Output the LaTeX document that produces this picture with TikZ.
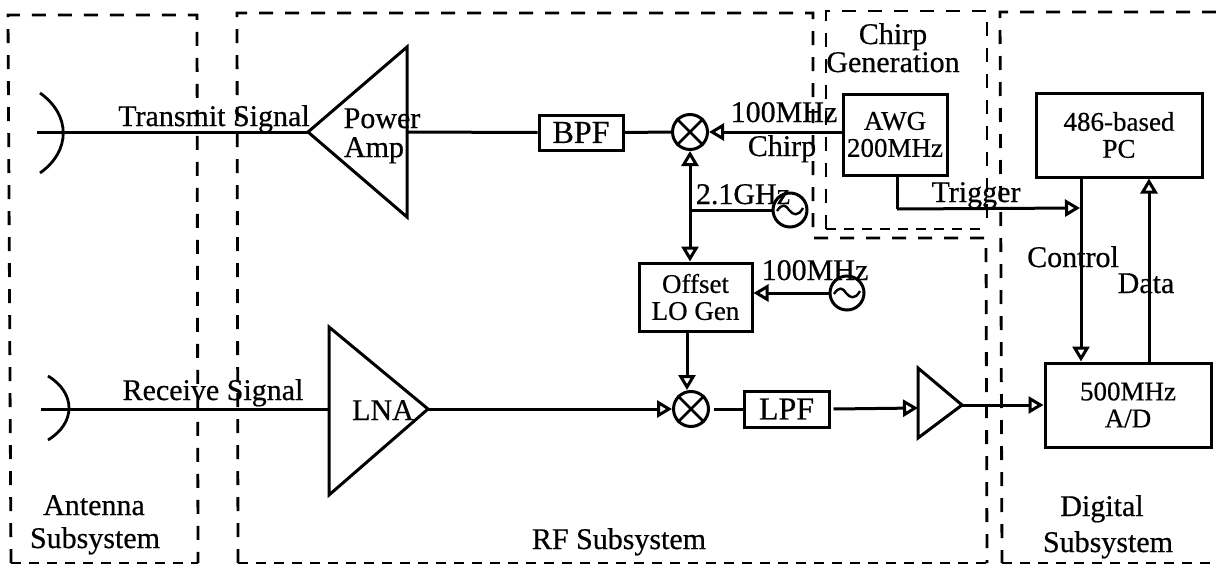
\documentclass[tikz,border=0pt]{standalone}
\usepackage{fontspec}
\setmainfont{Liberation Serif}[FakeBold=0.5]
\usetikzlibrary{arrows.meta,calc}
\newcommand{\fs}[1]{\fontsize{#1}{#1}\selectfont}
\tikzset{
  x=1pt,y=-1pt,
  subsys/.style={line width=2.8pt,dash pattern=on 14pt off 12pt},
  subsysb/.style={line width=2.6pt,dash pattern=on 10pt off 8pt},
  wire/.style={line width=3pt},
  arr/.style={line width=3pt,-{Triangle[open,length=15pt,width=17pt,line width=3pt]}},
  darr/.style={line width=3pt,{Triangle[open,length=15pt,width=17pt,line width=3pt]}-{Triangle[open,length=15pt,width=17pt,line width=3pt]}},
  blockbox/.style={draw,line width=3pt,inner sep=0pt,align=center,font=\fs{27}},
  filterbox/.style={draw,line width=3pt,inner sep=0pt,font=\fs{32}},
  mixer/.style={draw,circle,line width=3pt,minimum size=35pt,inner sep=0pt},
  source/.style={draw,circle,line width=3pt,minimum size=34pt,inner sep=0pt},
  tri/.style={line width=3pt,line join=miter},
  lab/.style={anchor=base,inner sep=0pt,font=\fs{30}},
}
\begin{document}
\begin{tikzpicture}
\useasboundingbox[fill=white] (0,0) rectangle (1216,565);
% subsystem outlines
\draw[subsys] (11,563) -- (8,15) -- (197,15) -- (198,563);
\draw[subsysb] (11,563) -- (198,563);
\draw[subsys] (238,563) -- (237,13) -- (813,13) -- (813,238) -- (986,238) -- (987,563);
\draw[subsysb] (238,563) -- (987,563);
\draw[subsys] (826,229) -- (826,11) -- (987,11) -- (987,229);
\draw[subsysb] (826,229) -- (987,229);
\draw[subsys] (1216,12) -- (1000,12) -- (1002,563);
\draw[subsysb] (1002,563) -- (1216,563);
% blocks
\node[filterbox,minimum width=84pt,minimum height=35pt] (bpf) at (581,132.5) {BPF};
\node[filterbox,minimum width=85pt,minimum height=36pt] (lpf) at (786.5,409) {LPF};
\node[blockbox,minimum width=104pt,minimum height=81pt] (awg) at (895,134.5) {AWG\\200MHz};
\node[blockbox,minimum width=113pt,minimum height=68pt] (lo) at (695.5,297) {Offset\\LO Gen};
\node[blockbox,minimum width=166pt,minimum height=84pt] (pc) at (1119,135) {486-based\\PC};
\node[blockbox,minimum width=166pt,minimum height=84pt] (ad) at (1128,405) {500MHz\\A/D};
\node[mixer] (mix1) at (690,132) {};
\node[mixer] (mix2) at (691,409) {};
\foreach \m in {mix1,mix2}{
  \draw[line width=2.8pt] (\m.45) -- (\m.225) (\m.135) -- (\m.315);
}
\node[source] (osc1) at (790,210) {};
\node[source] (osc2) at (847,293) {};
\foreach \m in {osc1,osc2}{
  \draw[line width=2.4pt] ($(\m)+(-13,1)$) .. controls ($(\m)+(-8,-7)$) and ($(\m)+(-4,-5)$) .. ($(\m)+(-1,0)$)
     .. controls ($(\m)+(3,5)$) and ($(\m)+(8,7)$) .. ($(\m)+(13,-2)$);
}
% amplifiers
\coordinate (paapex) at (308,132); \coordinate (pabt) at (407,47); \coordinate (pabb) at (407,217);
\draw[tri] (paapex) -- (pabt) -- (pabb) -- cycle;
\coordinate (paout) at (407,132);
\coordinate (lnaapex) at (428,409); \coordinate (lnabt) at (329,327); \coordinate (lnabb) at (329,495);
\draw[tri] (lnaapex) -- (lnabt) -- (lnabb) -- cycle;
\coordinate (lnain) at (329,409);
\coordinate (ifapex) at (962,405); \coordinate (ifbt) at (918,368); \coordinate (ifbb) at (918,438);
\draw[tri] (ifapex) -- (ifbt) -- (ifbb) -- cycle;
\coordinate (ifin) at (918,408);
% antennas
\coordinate (anta) at (37,132);
\coordinate (antb) at (41,409);
\draw[line width=2.8pt] (40,93) .. controls (71,115) and (71,151) .. (40,173);
\draw[line width=2.8pt] (48,376) .. controls (76,393) and (76,423) .. (48,440);
% connectors
\draw[wire] (anta) -- (paapex);
\draw[wire] (paout) -- (bpf.west);
\draw[wire] (bpf.east) -- (mix1.west);
\draw[arr] (mix1 -| awg.west) -- (mix1);
\draw[darr] (mix1) -- (lo.north -| mix1);
\draw[wire] (osc1) -- (osc1 -| mix1);
\draw[arr] (osc2) -- (osc2 -| lo.east);
\coordinate (lobot) at (687,333);
\draw[arr] (lobot) -- (lobot |- mix2.north);
\draw[wire] (antb) -- (lnain);
\draw[arr] (lnaapex) -- (mix2);
\draw[wire] (mix2.east) ++(4,0) -- (lpf.west);
\draw[arr] (lpf.east) ++(3,0) -- (ifin);
\draw[arr] (ifapex) -- (ad.west |- ifapex);
\coordinate (trigdown) at (897,209);
\draw[wire] (awg.south -| trigdown) -- (trigdown);
\coordinate (trigend) at (1080,208);
\draw[arr] (trigdown) -- (trigend);
\coordinate (ctrl) at (1081,177);
\draw[arr] (ctrl) -- (ctrl |- ad.north);
\coordinate (dat) at (1149,363);
\draw[arr] (dat) -- (dat |- pc.south);
% labels
\node[lab] (tx) at (214,126) {Transmit Signal};
\node[lab] (pw) at (382,128) {Power};
\node[lab] (am) at (374,157) {Amp};
\node[lab] (f1) at (784,122) {100MHz};
\node[lab] (ch) at (782,156) {Chirp};
\node[lab] (cg1) at (893,44) {Chirp};
\node[lab] (cg2) at (893,72) {Generation};
\node[lab] (ghz) at (743,204) {2.1GHz};
\node[lab] (tr) at (976,202) {Trigger};
\node[lab] (f2) at (815,280) {100MHz};
\node[lab] (co) at (1073,267) {Control};
\node[lab] (da) at (1146,293) {Data};
\node[lab] (rx) at (213,400) {Receive Signal};
\node[lab] (lna) at (383,420) {LNA};
\node[lab] (as1) at (94,515) {Antenna};
\node[lab] (as2) at (95,548) {Subsystem};
\node[lab] (rf) at (619,549) {RF Subsystem};
\node[lab] (ds1) at (1102,516) {Digital};
\node[lab] (ds2) at (1108,552) {Subsystem};
\end{tikzpicture}
\end{document}
